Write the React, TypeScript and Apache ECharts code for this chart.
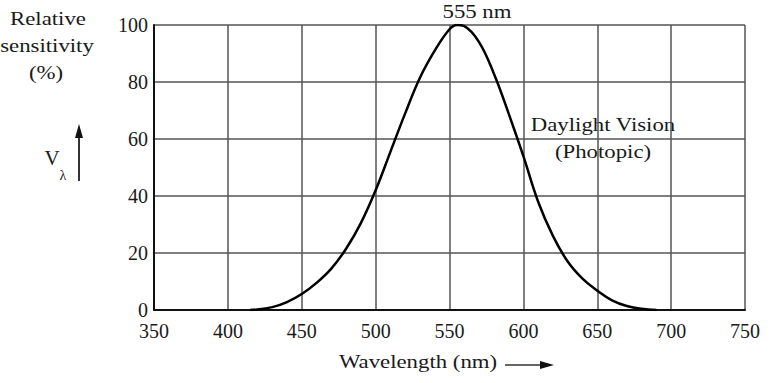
import React, { useEffect, useRef } from "react";
import * as echarts from "echarts";

const wavelengths = [415, 420, 430, 440, 450, 460, 470, 480, 490, 500, 510, 520, 530, 540, 550, 555, 560, 570, 580, 590, 600, 610, 620, 630, 640, 650, 660, 670, 680, 690];
const sensitivity = [0, 0.2, 1, 2.8, 5.6, 9.5, 14.5, 21.5, 30.5, 42, 55.5, 69, 81.5, 91, 98.5, 100, 99.6, 94, 83, 69, 54, 38, 26, 17, 11, 6.8, 3.4, 1.4, 0.4, 0];
const xTicks = { min: 350, max: 750, step: 50 };
const yTicks = { min: 0, max: 100, step: 20 };

const FONT = "Liberation Serif";
const TXT = "#1a1a1a";

export default function App() {
  const ref = useRef<HTMLDivElement>(null);
  useEffect(() => {
    if (!ref.current) return;
    const chart = echarts.init(ref.current, null, { renderer: "svg" });
    const data = wavelengths.map((w, i) => [w, sensitivity[i]]);
    const t = (text: string, x: number, y: number, size = 19, sx = 1.2) => ({
      type: "text",
      x,
      y,
      scaleX: sx,
      style: { text, fontFamily: FONT, fontSize: size, fill: TXT, textAlign: "center", textVerticalAlign: "middle" },
    });
    chart.setOption({
      animation: false,
      backgroundColor: "#fff",
      grid: { left: 154, right: 30, top: 25, bottom: 73 },
      xAxis: {
        type: "value",
        min: xTicks.min,
        max: xTicks.max,
        interval: xTicks.step,
        axisLine: { show: true, onZero: false, lineStyle: { color: "#111", width: 2 } },
        axisTick: { show: false },
        axisLabel: { fontFamily: FONT, fontSize: 20, color: TXT, margin: 11 },
        splitLine: { show: true, lineStyle: { color: "#555", width: 1.5 } },
      },
      yAxis: {
        type: "value",
        min: yTicks.min,
        max: yTicks.max,
        interval: yTicks.step,
        axisLine: { show: true, lineStyle: { color: "#111", width: 2 } },
        axisTick: { show: false },
        axisLabel: { fontFamily: FONT, fontSize: 20, color: TXT, margin: 6, verticalAlign: "middle" },
        splitLine: { show: true, lineStyle: { color: "#555", width: 1.5 } },
      },
      series: [
        {
          type: "line",
          data,
          smooth: 0.4,
          showSymbol: false,
          lineStyle: { color: "#000", width: 2.5 },
        },
      ],
      graphic: [
        t("Relative", 48, 19),
        t("sensitivity", 47, 46),
        t("(%)", 46, 73),
        t("555 nm", 477, 12),
        t("Daylight Vision", 603, 125),
        t("(Photopic)", 603, 152),
        t("Wavelength (nm)", 418, 362),
        { type: "text", x: 52, y: 158, style: { text: "V", fontFamily: FONT, fontSize: 21, fill: TXT, textAlign: "center", textVerticalAlign: "middle" } },
        { type: "text", x: 63, y: 175, style: { text: "λ", fontFamily: FONT, fontSize: 14, fill: TXT, textAlign: "center", textVerticalAlign: "middle" } },
        { type: "line", shape: { x1: 79, y1: 181, x2: 79, y2: 136 }, style: { stroke: "#333", lineWidth: 2 } },
        { type: "polygon", shape: { points: [[75, 138], [83, 138], [79, 124]] }, style: { fill: "#111" } },
        { type: "line", shape: { x1: 505, y1: 365, x2: 542, y2: 365 }, style: { stroke: "#333", lineWidth: 1.5 } },
        { type: "polygon", shape: { points: [[540, 361], [540, 369], [554, 365]] }, style: { fill: "#111" } },
      ],
    });
    return () => chart.dispose();
  }, []);
  return <div ref={ref} style={{ position: "fixed", left: 0, top: 0, width: 775, height: 383, background: "#fff" }} />;
}
